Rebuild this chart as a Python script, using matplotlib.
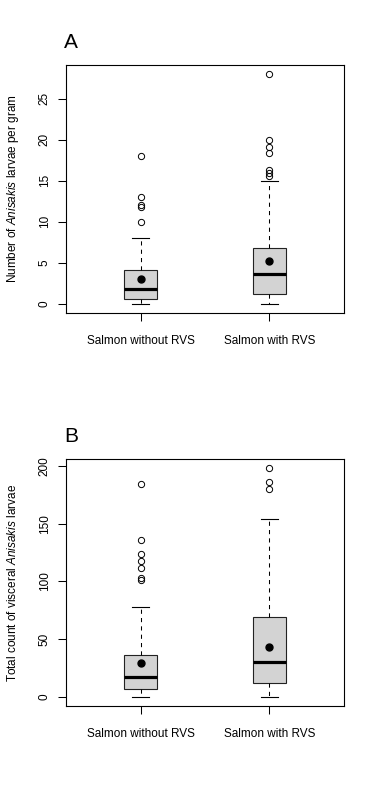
import matplotlib
matplotlib.use("Agg")
import matplotlib.pyplot as plt

plt.rcParams['font.family'] = ['Liberation Sans', 'DejaVu Sans']
plt.rcParams['mathtext.fontset'] = 'custom'
plt.rcParams['mathtext.rm'] = 'Liberation Sans'
plt.rcParams['mathtext.it'] = 'Liberation Sans:italic'

# grupy
groups = ["Salmon without RVS", "Salmon with RVS"]

# panel A - larwy na gram
a_whislo = [0, 0]
a_q1 = [0.6, 1.1]
a_med = [1.75, 3.55]
a_q3 = [4.05, 6.8]
a_whishi = [8, 15]
a_mean = [3.0, 5.2]
a_fliers = [[10, 11.8, 12, 13, 18],
            [15.6, 15.9, 16.3, 18.4, 19.1, 20, 28]]

# panel B - całkowita liczba larw w trzewiach
b_whislo = [0, 0]
b_q1 = [7, 12]
b_med = [17, 30.5]
b_q3 = [36, 69.5]
b_whishi = [78, 154.5]
b_mean = [29.5, 43]
b_fliers = [[101.5, 103, 111.5, 118, 124, 136, 184.5],
            [180, 186, 198]]


def stats(whislo, q1, med, q3, whishi, fliers):
    return [dict(whislo=whislo[i], q1=q1[i], med=med[i], q3=q3[i],
                 whishi=whishi[i], fliers=fliers[i], label=groups[i])
            for i in range(len(groups))]


def panel(ax, st, means, ylim, yticks, ylabel):
    ax.bxp(st, positions=[1, 2], widths=0.25, capwidths=0.125,
           patch_artist=True, showfliers=True,
           boxprops=dict(facecolor='#D3D3D3', edgecolor='#222222', linewidth=0.8),
           medianprops=dict(color='black', linewidth=2.3),
           whiskerprops=dict(color='black', linewidth=0.75, linestyle=(0, (4, 4))),
           capprops=dict(color='black', linewidth=0.8),
           flierprops=dict(marker='o', markerfacecolor='none', markeredgecolor='black',
                           markersize=4.5, markeredgewidth=0.7))
    # średnie jako czarne kropki
    ax.plot([1, 2], means, 'o', color='black', markersize=5)
    ax.set_xlim(0.42, 2.58)
    ax.set_ylim(*ylim)
    ax.set_yticks(yticks)
    ax.set_xticks([1, 2])
    ax.set_xticklabels(groups)
    for s in ax.spines.values():
        s.set_linewidth(0.8)
    ax.tick_params(axis='both', direction='out', length=5.8, width=0.75, labelsize=8.5)
    ax.tick_params(axis='x', pad=10)
    ax.tick_params(axis='y', pad=5, labelrotation=90)
    plt.setp(ax.get_yticklabels(), va='center')
    ax.set_ylabel(ylabel, fontsize=8.5, va='center')
    ax.yaxis.set_label_coords(-0.19, 0.5)


fig = plt.figure(figsize=(3.78, 7.88), dpi=100)
axA = fig.add_axes([0.1738, 0.6032, 0.737, 0.3143])
axB = fig.add_axes([0.1738, 0.1041, 0.737, 0.313])

panel(axA, stats(a_whislo, a_q1, a_med, a_q3, a_whishi, a_fliers), a_mean,
      (-1.12, 29.12), [0, 5, 10, 15, 20, 25],
      r"Number of $\it{Anisakis}$ larvae per gram")
panel(axB, stats(b_whislo, b_q1, b_med, b_q3, b_whishi, b_fliers), b_mean,
      (-7.92, 205.92), [0, 50, 100, 150, 200],
      r"Total count of visceral $\it{Anisakis}$ larvae")

fig.text(0.169, 0.9387, "A", fontsize=15, va='baseline')
fig.text(0.169, 0.4395, "B", fontsize=15, va='baseline')

fig.savefig("out.png", dpi=100)
